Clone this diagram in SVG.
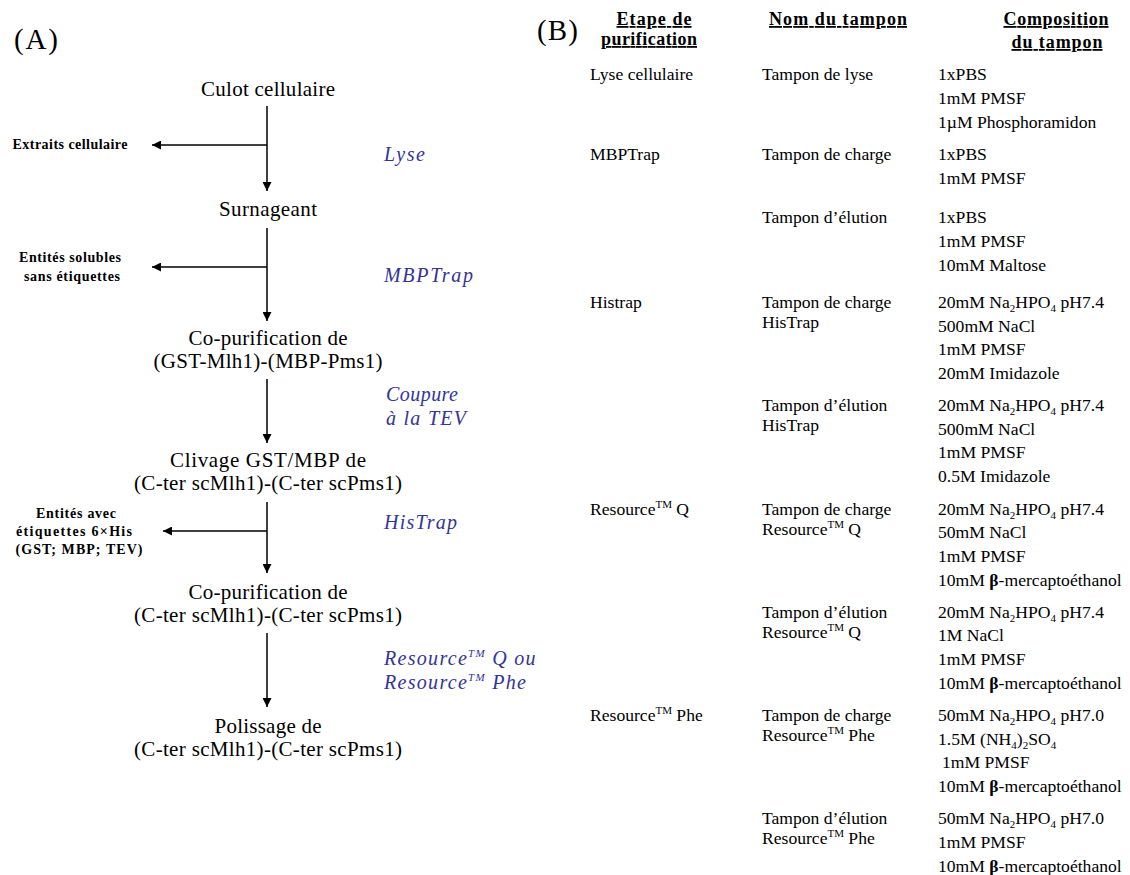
<svg xmlns="http://www.w3.org/2000/svg" width="1130" height="875" viewBox="0 0 1130 875">
<style>
text{font-family:"Liberation Serif","Times New Roman",serif;fill:#000}
.big{font-size:29px}
.node{font-size:21px;text-anchor:middle}
.side{font-size:14px;font-weight:bold;text-anchor:middle}
.step{font-size:20px;font-style:italic;fill:#333399}
.hdr{font-size:18px;font-weight:bold;text-decoration:underline;text-anchor:middle}
.tb{font-size:17.6px}
.sub{font-size:11px}
.conn line{stroke:#000;stroke-width:1.5}
</style>
<defs>
<marker id="ah" viewBox="0 0 10 10" refX="10" refY="5" markerUnits="userSpaceOnUse" markerWidth="10" markerHeight="9" orient="auto">
<path d="M0,0 L10,5 L0,10 z" fill="#000"/>
</marker>
</defs>
<rect width="1130" height="875" fill="#fff"/>

<text class="big" x="14" y="49" textLength="44">(A)</text>
<text class="big" x="537" y="40" textLength="41">(B)</text>

<g id="n-culot"><text class="node" x="268" y="96" textLength="134">Culot cellulaire</text></g>
<g id="n-surnageant"><text class="node" x="268" y="216" textLength="98">Surnageant</text></g>
<g id="n-copur1"><text class="node" x="268" y="345" textLength="159">Co-purification de</text><text class="node" x="268" y="368" textLength="229">(GST-Mlh1)-(MBP-Pms1)</text></g>
<g id="n-clivage"><text class="node" x="268" y="467" textLength="196">Clivage GST/MBP de</text><text class="node" x="268" y="490" textLength="268">(C-ter scMlh1)-(C-ter scPms1)</text></g>
<g id="n-copur2"><text class="node" x="268" y="599" textLength="159">Co-purification de</text><text class="node" x="268" y="622" textLength="268">(C-ter scMlh1)-(C-ter scPms1)</text></g>
<g id="n-polissage"><text class="node" x="268" y="733" textLength="107">Polissage de</text><text class="node" x="268" y="756" textLength="268">(C-ter scMlh1)-(C-ter scPms1)</text></g>

<g id="n-extraits"><text class="side" x="70" y="149" textLength="115">Extraits cellulaire</text></g>
<g id="n-entites1"><text class="side" x="70" y="262" textLength="102">Entités solubles</text><text class="side" x="72" y="281" textLength="96">sans étiquettes</text></g>
<g id="n-entites2"><text class="side" x="76" y="518" textLength="80">Entités avec</text><text class="side" x="74" y="536" textLength="116">étiquettes 6×His</text><text class="side" x="79" y="554" textLength="127">(GST; MBP; TEV)</text></g>

<g id="steps">
<text class="step" x="384" y="161" textLength="41">Lyse</text>
<text class="step" x="384" y="282" textLength="89">MBPTrap</text>
<text class="step" x="386" y="401" textLength="72">Coupure</text>
<text class="step" x="386" y="425" textLength="80">à la TEV</text>
<text class="step" x="384" y="529" textLength="73">HisTrap</text>
<text class="step" x="384" y="665" letter-spacing="1.3">Resource<tspan class="sub" dy="-8">TM</tspan><tspan dy="8"> Q ou</tspan></text>
<text class="step" x="384" y="689" letter-spacing="1.3">Resource<tspan class="sub" dy="-8">TM</tspan><tspan dy="8"> Phe</tspan></text>
</g>

<g class="conn" id="connectors">
<line x1="267" y1="106" x2="267" y2="191" marker-end="url(#ah)"/>
<line x1="267" y1="145" x2="152" y2="145" marker-end="url(#ah)"/>
<line x1="267" y1="228" x2="267" y2="321" marker-end="url(#ah)"/>
<line x1="267" y1="267" x2="152" y2="267" marker-end="url(#ah)"/>
<line x1="267" y1="379" x2="267" y2="443" marker-end="url(#ah)"/>
<line x1="267" y1="502" x2="267" y2="573" marker-end="url(#ah)"/>
<line x1="267" y1="531" x2="163" y2="531" marker-end="url(#ah)"/>
<line x1="267" y1="633" x2="267" y2="707" marker-end="url(#ah)"/>
</g>

<g id="table-header">
<text class="hdr" x="654" y="25" textLength="75">Etape de</text>
<text class="hdr" x="649" y="45" textLength="96">purification</text>
<text class="hdr" x="838" y="25" textLength="138">Nom du tampon</text>
<text class="hdr" x="1056" y="25" textLength="105">Composition</text>
<text class="hdr" x="1057" y="48" textLength="91">du tampon</text>
</g>

<g id="row-lyse">
<text class="tb" x="590" y="80">Lyse cellulaire</text>
<text class="tb" x="762" y="80">Tampon de lyse</text>
<text class="tb" x="938" y="80">1xPBS</text>
<text class="tb" x="938" y="104">1mM PMSF</text>
<text class="tb" x="938" y="128">1µM Phosphoramidon</text>
</g>

<g id="row-mbptrap">
<text class="tb" x="590" y="160">MBPTrap</text>
<text class="tb" x="762" y="160">Tampon de charge</text>
<text class="tb" x="938" y="160">1xPBS</text>
<text class="tb" x="938" y="184">1mM PMSF</text>
<text class="tb" x="762" y="223">Tampon d’élution</text>
<text class="tb" x="938" y="223">1xPBS</text>
<text class="tb" x="938" y="247">1mM PMSF</text>
<text class="tb" x="938" y="271">10mM Maltose</text>
</g>

<g id="row-histrap">
<text class="tb" x="590" y="308">Histrap</text>
<text class="tb" x="762" y="308">Tampon de charge</text>
<text class="tb" x="762" y="328">HisTrap</text>
<text class="tb" x="938" y="308">20mM Na<tspan class="sub" dy="4">2</tspan><tspan dy="-4">HPO</tspan><tspan class="sub" dy="4">4</tspan><tspan dy="-4"> pH7.4</tspan></text>
<text class="tb" x="938" y="332">500mM NaCl</text>
<text class="tb" x="938" y="355">1mM PMSF</text>
<text class="tb" x="938" y="379">20mM Imidazole</text>
<text class="tb" x="762" y="411">Tampon d’élution</text>
<text class="tb" x="762" y="431">HisTrap</text>
<text class="tb" x="938" y="411">20mM Na<tspan class="sub" dy="4">2</tspan><tspan dy="-4">HPO</tspan><tspan class="sub" dy="4">4</tspan><tspan dy="-4"> pH7.4</tspan></text>
<text class="tb" x="938" y="435">500mM NaCl</text>
<text class="tb" x="938" y="458">1mM PMSF</text>
<text class="tb" x="938" y="482">0.5M Imidazole</text>
</g>

<g id="row-resq">
<text class="tb" x="590" y="515">Resource<tspan class="sub" dy="-7">TM</tspan><tspan dy="7"> Q</tspan></text>
<text class="tb" x="762" y="515">Tampon de charge</text>
<text class="tb" x="762" y="535">Resource<tspan class="sub" dy="-7">TM</tspan><tspan dy="7"> Q</tspan></text>
<text class="tb" x="938" y="515">20mM Na<tspan class="sub" dy="4">2</tspan><tspan dy="-4">HPO</tspan><tspan class="sub" dy="4">4</tspan><tspan dy="-4"> pH7.4</tspan></text>
<text class="tb" x="938" y="538">50mM NaCl</text>
<text class="tb" x="938" y="562">1mM PMSF</text>
<text class="tb" x="938" y="586">10mM <tspan font-weight="bold">β</tspan>-mercaptoéthanol</text>
<text class="tb" x="762" y="618">Tampon d’élution</text>
<text class="tb" x="762" y="638">Resource<tspan class="sub" dy="-7">TM</tspan><tspan dy="7"> Q</tspan></text>
<text class="tb" x="938" y="618">20mM Na<tspan class="sub" dy="4">2</tspan><tspan dy="-4">HPO</tspan><tspan class="sub" dy="4">4</tspan><tspan dy="-4"> pH7.4</tspan></text>
<text class="tb" x="938" y="641">1M NaCl</text>
<text class="tb" x="938" y="665">1mM PMSF</text>
<text class="tb" x="938" y="689">10mM <tspan font-weight="bold">β</tspan>-mercaptoéthanol</text>
</g>

<g id="row-resphe">
<text class="tb" x="590" y="721">Resource<tspan class="sub" dy="-7">TM</tspan><tspan dy="7"> Phe</tspan></text>
<text class="tb" x="762" y="721">Tampon de charge</text>
<text class="tb" x="762" y="741">Resource<tspan class="sub" dy="-7">TM</tspan><tspan dy="7"> Phe</tspan></text>
<text class="tb" x="938" y="721">50mM Na<tspan class="sub" dy="4">2</tspan><tspan dy="-4">HPO</tspan><tspan class="sub" dy="4">4</tspan><tspan dy="-4"> pH7.0</tspan></text>
<text class="tb" x="938" y="745">1.5M (NH<tspan class="sub" dy="4">4</tspan><tspan dy="-4">)</tspan><tspan class="sub" dy="4">2</tspan><tspan dy="-4">SO</tspan><tspan class="sub" dy="4">4</tspan></text>
<text class="tb" x="942" y="768">1mM PMSF</text>
<text class="tb" x="938" y="792">10mM <tspan font-weight="bold">β</tspan>-mercaptoéthanol</text>
<text class="tb" x="762" y="824">Tampon d’élution</text>
<text class="tb" x="762" y="844">Resource<tspan class="sub" dy="-7">TM</tspan><tspan dy="7"> Phe</tspan></text>
<text class="tb" x="938" y="824">50mM Na<tspan class="sub" dy="4">2</tspan><tspan dy="-4">HPO</tspan><tspan class="sub" dy="4">4</tspan><tspan dy="-4"> pH7.0</tspan></text>
<text class="tb" x="938" y="848">1mM PMSF</text>
<text class="tb" x="938" y="872">10mM <tspan font-weight="bold">β</tspan>-mercaptoéthanol</text>
</g>
</svg>
